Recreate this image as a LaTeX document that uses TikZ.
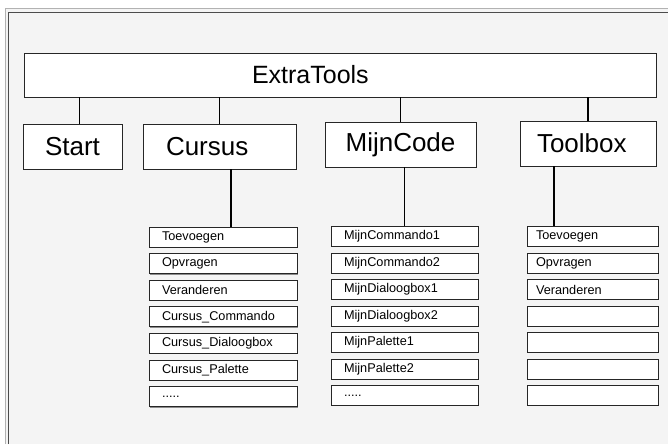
\documentclass[tikz,border=0pt]{standalone}
\usepackage{fontspec}
\setmainfont{Liberation Sans}
\usetikzlibrary{shadows}
\definecolor{panelgray}{HTML}{F4F4F4}
\newcommand\moredots{.....}
\tikzset{
  menubox/.style={draw=black!85, fill=white, line width=0.8pt, inner ysep=0pt,
    drop shadow={shadow xshift=0.9pt, shadow yshift=-0.9pt, fill=black!45, opacity=1}},
  bigbox/.style={menubox, minimum height=45pt, font=\fontsize{26}{30}\selectfont, align=left},
  itembox/.style={menubox, minimum height=20pt, font=\fontsize{12.7}{15}\selectfont, align=left},
  link/.style={line width=1.5pt}
}
\begin{document}
\begin{tikzpicture}[x=1pt, y=-1pt]
    \useasboundingbox (0,0) rectangle (668,444);
    % panel with its double edge
    \fill[panelgray] (5,9) rectangle (668,444);
    \draw[gray!60, line width=1pt] (5,444) -- (5,9) -- (668,9);
    \draw[black!70, line width=1pt] (8.5,444) -- (8.5,12.5) -- (668,12.5);

    \node[bigbox, minimum height=44pt, font=\fontsize{25}{30}\selectfont, inner xsep=228pt, text width=176pt] (extra) at (340,75) {ExtraTools};
    \node[bigbox, minimum width=99pt, align=center] (start) at (72.5,146.5) {Start};
    \node[bigbox, inner xsep=23pt, text width=107pt] (cursus) at (219.5,146.5) {Cursus};
    \node[bigbox, minimum width=151pt, align=center] (mijncode) at (400.5,144.5) {MijnCode};
    \node[bigbox, inner xsep=17pt, text width=102pt] (toolbox) at (588,143.5) {Toolbox};

    \foreach \name [count=\i from 0] in {Toevoegen, Opvragen, Veranderen, Cursus\_Commando, Cursus\_Dialoogbox, Cursus\_Palette, \moredots}
    {\node[itembox, inner xsep=13pt, text width=122pt] (cl\i) at (223,237+26.6*\i) {\name};}
    \foreach \name [count=\i from 0] in {MijnCommando1, MijnCommando2, MijnDialoogbox1, MijnDialoogbox2, MijnPalette1, MijnPalette2, \moredots}
    {\node[itembox, inner xsep=13pt, text width=121pt] (ml\i) at (404.5,236.4+26.5*\i) {\name};}
    \foreach \name [count=\i from 0] in {Toevoegen, Opvragen, Veranderen, {}, {}, {}, {}}
    {\node[itembox, inner xsep=9pt, text width=113pt] (tl\i) at (592.5,236.5+26.5*\i) {\name};}

    \draw[link] ([xshift=7pt]start.north) -- ([xshift=7pt]start.north |- extra.south);
    \draw[link] (cursus.north) -- (cursus.north |- extra.south);
    \draw[link] (mijncode.north) -- (mijncode.north |- extra.south);
    \draw[link] (toolbox.north) -- (toolbox.north |- extra.south);

    \draw[link] ([xshift=11.5pt]cursus.south) -- ([xshift=11.5pt]cursus.south |- cl0.north);
    \draw[link] (ml0.north |- mijncode.south) -- (ml0.north);
    \draw[link] ([xshift=-34pt]toolbox.south) -- ([xshift=-34pt]toolbox.south |- tl0.north);
\end{tikzpicture}
\end{document}
